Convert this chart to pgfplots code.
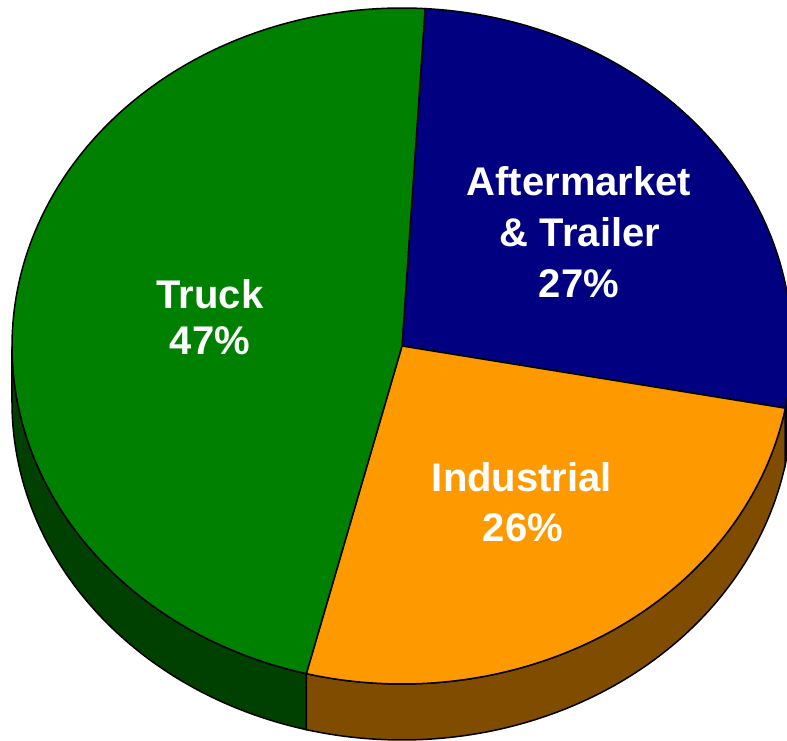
\documentclass[border=0pt]{standalone}
\usepackage{pgfplots}
\pgfplotsset{compat=1.18}
\usepackage{fontspec}
\setmainfont{Liberation Sans}
\definecolor{cTruck}{RGB}{0,128,0}
\definecolor{cTruckS}{RGB}{0,64,0}
\definecolor{cAfter}{RGB}{0,0,128}
\definecolor{cAfterS}{RGB}{0,0,64}
\definecolor{cInd}{RGB}{255,153,0}
\definecolor{cIndS}{RGB}{128,77,0}
\begin{document}
\begin{tikzpicture}
% pie geometry (axis units = pt)
\def\cx{402}\def\cy{395}\def\rx{390}\def\ry{338}\def\dep{56}
% data (percent)
\def\vAfter{27}\def\vInd{26}\def\vTruck{47}
\pgfmathsetmacro\aA{86.6}
\pgfmathsetmacro\aB{\aA-3.6*\vAfter}
\pgfmathsetmacro\aC{\aB-3.6*\vInd}
\pgfmathsetmacro\aD{\aC-3.6*\vTruck}
\begin{axis}[width=787pt,height=741pt,scale only axis,
  xmin=0,xmax=787,ymin=0,ymax=741,hide axis,clip=true]
% side walls
\addplot[fill=cTruckS,draw=black,line width=1.5pt,domain=-180:\aC,samples=80,variable=\t]
  ({\cx+\rx*cos(t)},{\cy+\ry*sin(t)})
  -- (axis cs:{\cx+\rx*cos(\aC)},{\cy+\ry*sin(\aC)-\dep})
  arc[start angle=\aC,end angle=-180,x radius=\rx,y radius=\ry] -- cycle;
\addplot[fill=cIndS,draw=black,line width=1.5pt,domain=\aC:\aB,samples=80,variable=\t]
  ({\cx+\rx*cos(t)},{\cy+\ry*sin(t)})
  -- (axis cs:{\cx+\rx*cos(\aB)},{\cy+\ry*sin(\aB)-\dep})
  arc[start angle=\aB,end angle=\aC,x radius=\rx,y radius=\ry] -- cycle;
\addplot[fill=cAfterS,draw=black,line width=1.5pt,domain=\aB:0,samples=20,variable=\t]
  ({\cx+\rx*cos(t)},{\cy+\ry*sin(t)})
  -- (axis cs:{\cx+\rx},{\cy-\dep})
  arc[start angle=0,end angle=\aB,x radius=\rx,y radius=\ry] -- cycle;
% top wedges
\addplot[fill=cAfter,draw=black,line width=1.5pt,domain=\aB:\aA,samples=80,variable=\t]
  ({\cx+\rx*cos(t)},{\cy+\ry*sin(t)}) -- (axis cs:\cx,\cy) -- cycle;
\addplot[fill=cInd,draw=black,line width=1.5pt,domain=\aC:\aB,samples=80,variable=\t]
  ({\cx+\rx*cos(t)},{\cy+\ry*sin(t)}) -- (axis cs:\cx,\cy) -- cycle;
\addplot[fill=cTruck,draw=black,line width=1.5pt,domain=\aD:\aC,samples=120,variable=\t]
  ({\cx+\rx*cos(t)},{\cy+\ry*sin(t)}) -- (axis cs:\cx,\cy) -- cycle;
% labels
\tikzset{lbl/.style={text=white,font=\bfseries\fontsize{40}{48}\selectfont,anchor=base,inner sep=0pt}}
\node[lbl] at (axis cs:210,432) {Truck};
\node[lbl] at (axis cs:210,386) {47\%};
\node[lbl] at (axis cs:579,545) {Aftermarket};
\node[lbl] at (axis cs:580,494) {\& Trailer};
\node[lbl] at (axis cs:579,443) {27\%};
\node[lbl] at (axis cs:522,249) {Industrial};
\node[lbl] at (axis cs:523,199) {26\%};
\end{axis}
\pgfresetboundingbox
\path (0,0) rectangle (787pt,741pt);
\end{tikzpicture}
\end{document}
